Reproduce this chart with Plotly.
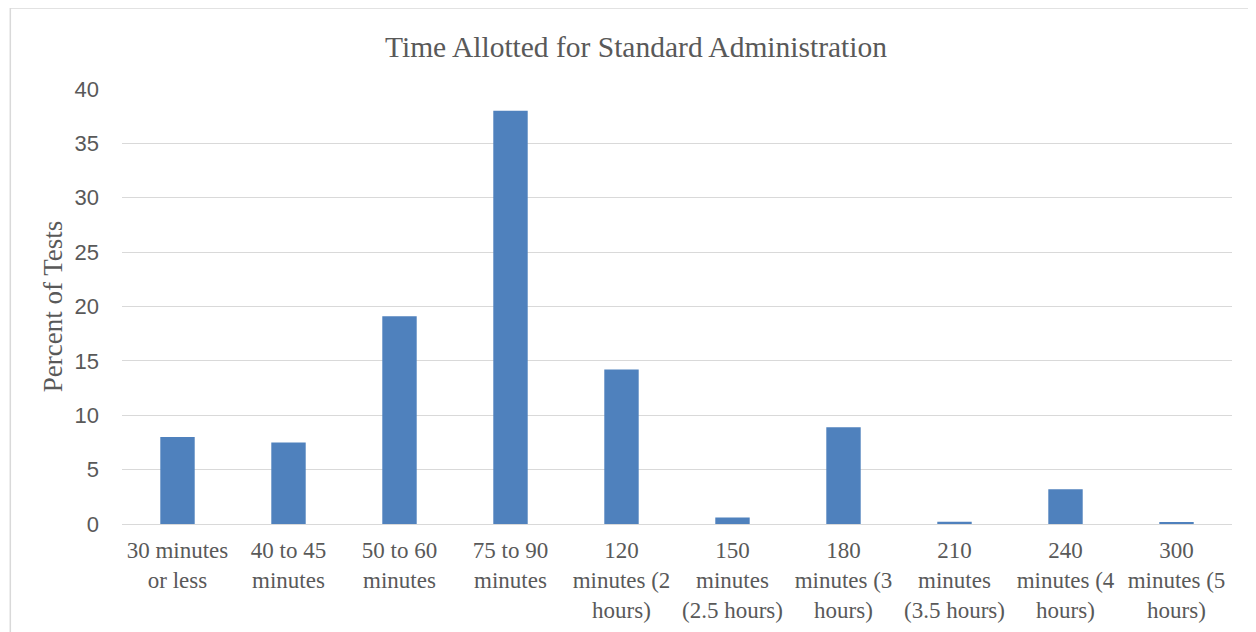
import plotly.graph_objects as go

categories = [
    "30 minutes<br>or less",
    "40 to 45<br>minutes",
    "50 to 60<br>minutes",
    "75 to 90<br>minutes",
    "120<br>minutes (2<br>hours)",
    "150<br>minutes<br>(2.5 hours)",
    "180<br>minutes (3<br>hours)",
    "210<br>minutes<br>(3.5 hours)",
    "240<br>minutes (4<br>hours)",
    "300<br>minutes (5<br>hours)",
]
percent_of_tests = [8.0, 7.5, 19.1, 38.0, 14.2, 0.6, 8.9, 0.2, 3.2, 0.1]
y_ticks = [0, 5, 10, 15, 20, 25, 30, 35, 40]

# the page body adds an 8px offset; figure coordinates below account for it
W, H = 1256, 632
L, R, T, B = 113.7, 32.2, 81, 115.5
pw, ph = W - L - R, H - T - B

def px_x(x):
    return (x - L) / pw

def px_y(y):
    return (H - B - y) / ph

fig = go.Figure(
    go.Bar(
        x=categories,
        y=percent_of_tests,
        marker=dict(color="#4f81bd", line=dict(width=0)),
    )
)

fig.update_layout(
    width=W,
    height=H,
    margin=dict(l=L, r=R, t=T, b=B),
    paper_bgcolor="white",
    plot_bgcolor="white",
    bargap=0.69,
    showlegend=False,
    title=dict(
        text="Time Allotted for Standard Administration",
        font=dict(family="Liberation Serif", size=29.5, color="#595959"),
        x=0.5,
        xref="container",
        xanchor="center",
        y=1 - 39 / H,
        yanchor="middle",
    ),
    font=dict(family="Liberation Serif", color="#595959"),
)

fig.update_xaxes(
    showgrid=False,
    showline=False,
    ticks="",
    tickfont=dict(family="Liberation Serif", size=23, color="#595959"),
    ticklabelstandoff=10,
)
fig.update_yaxes(
    range=[0, 40],
    tickvals=y_ticks,
    showgrid=True,
    gridcolor="#d9d9d9",
    gridwidth=1.3,
    zeroline=True,
    zerolinecolor="#d9d9d9",
    zerolinewidth=1.3,
    showline=False,
    ticks="",
    tickfont=dict(family="Liberation Sans", size=22, color="#595959"),
    ticklabelstandoff=22,
    title=dict(
        text="Percent of Tests",
        font=dict(family="Liberation Serif", size=27, color="#595959"),
        standoff=4,
    ),
)

# chart area border (top and left edges visible)
fig.add_shape(type="line", xref="paper", yref="paper",
              x0=px_x(2), x1=px_x(1262), y0=px_y(0), y1=px_y(0),
              line=dict(color="#d9d9d9", width=1.5))
fig.add_shape(type="line", xref="paper", yref="paper",
              x0=px_x(2), x1=px_x(2), y0=px_y(0), y1=px_y(640),
              line=dict(color="#d9d9d9", width=1.5))

fig.write_html("out.html")
